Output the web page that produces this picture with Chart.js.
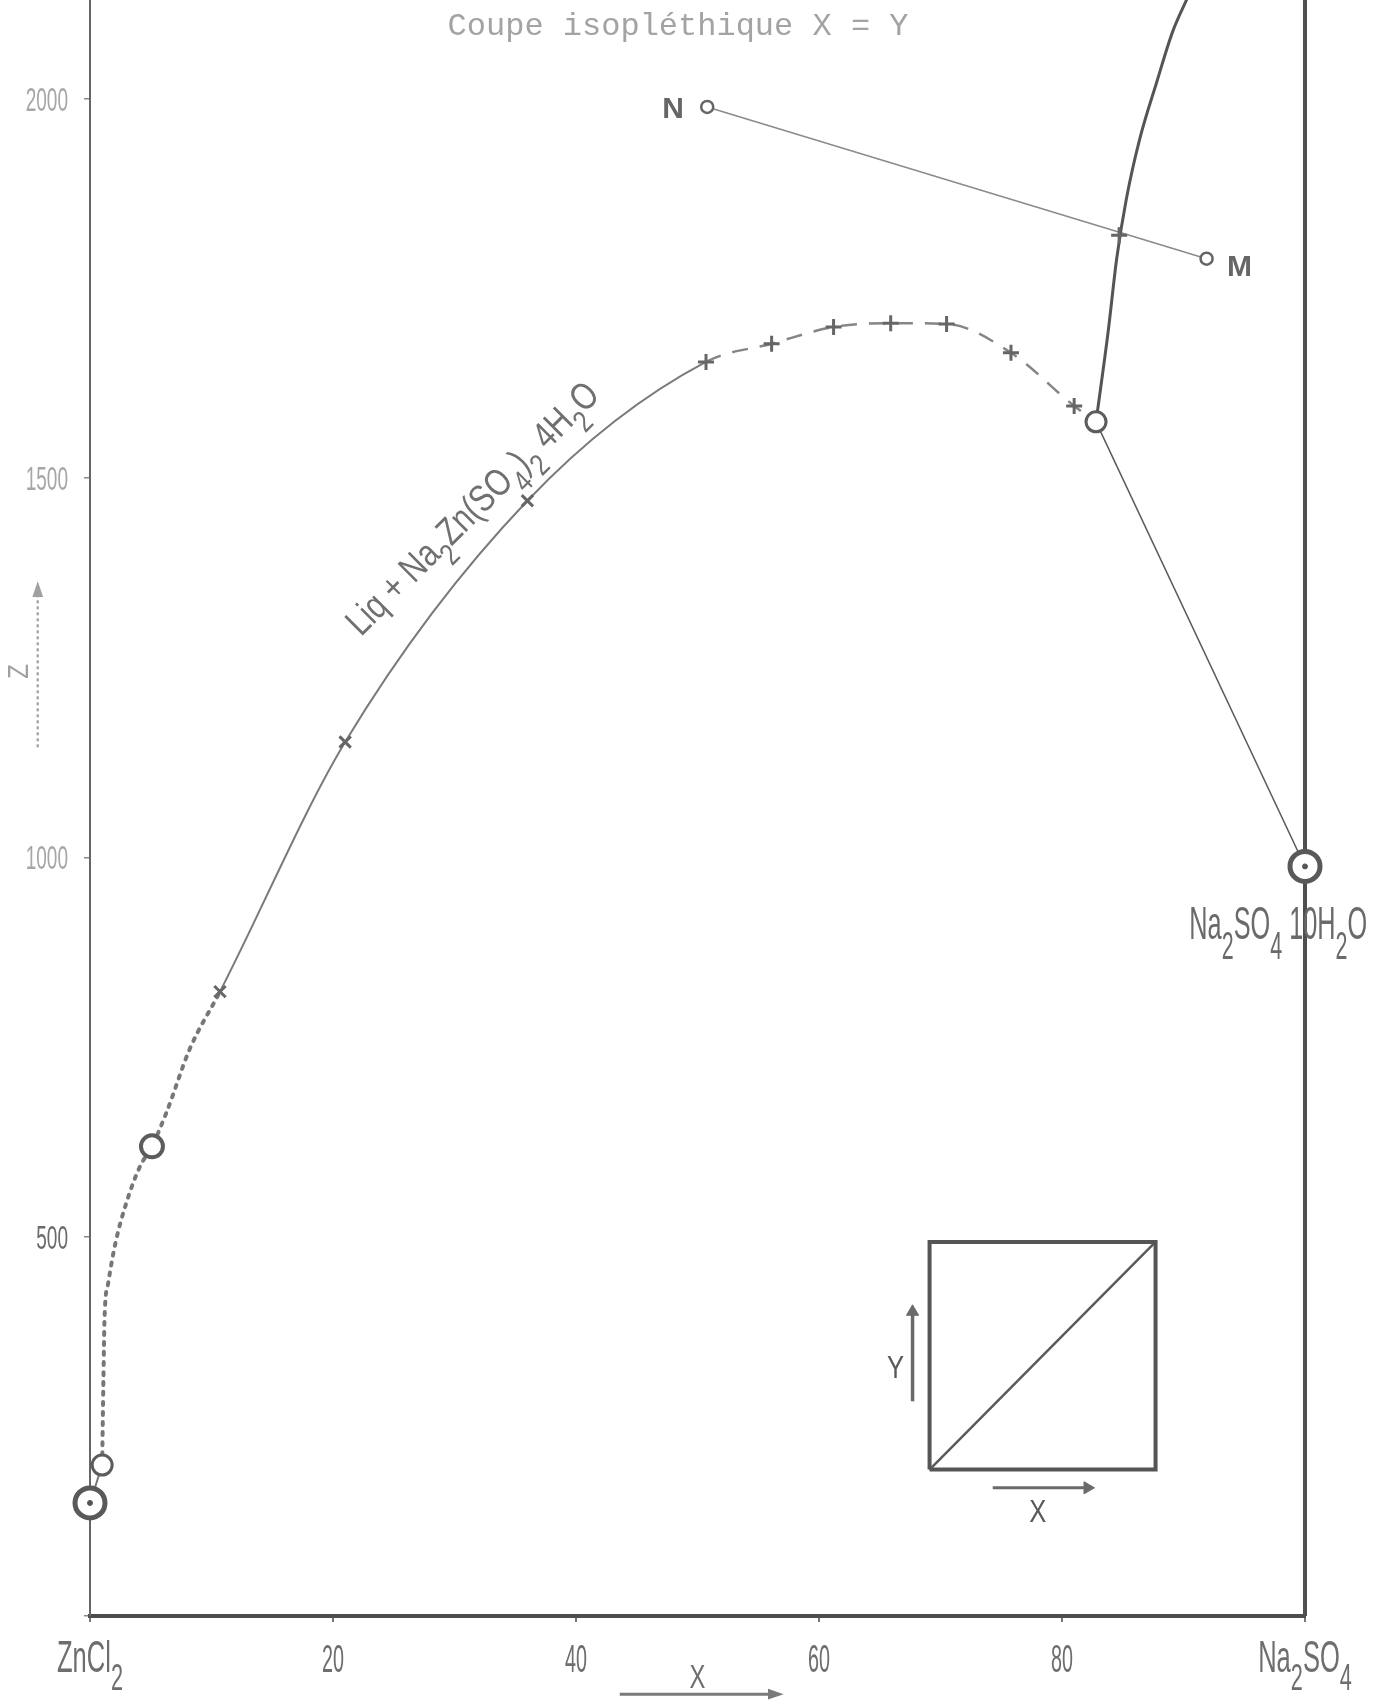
<!DOCTYPE html>
<html>
<head>
<meta charset="utf-8">
<title>Coupe isopléthique X = Y</title>
<script src="https://cdn.jsdelivr.net/npm/chart.js"></script>
<style>
  html, body { margin: 0; padding: 0; background: #fff; }
  canvas { display: block; }
</style>
</head>
<body>
<canvas id="chart" width="1387" height="1700"></canvas>
<script>
// axis ticks
var xTicks = [0, 20, 40, 60, 80, 100];
var xTickLabels = ['ZnCl2', '20', '40', '60', '80', 'Na2SO4'];
var yTicks = [0, 500, 1000, 1500, 2000];
var yTickLabels = ['', '500', '1000', '1500', '2000'];

// liquidus, Na2Zn(SO4)2 4H2O field (X, Z)
var stubX = [0, 1.0];
var stubZ = [149, 199];
var dotX = [1.0, 1.1, 1.2, 1.5, 2.1, 3.0, 4.1, 5.1, 6.3, 8.2];
var dotZ = [199, 307, 394, 439, 492, 545, 592, 619, 664, 747];
var liqX = [10.7, 21.0, 36.0];
var liqZ = [823, 1152, 1470];
var topX = [50.7, 56.1, 61.2, 65.9, 70.5, 75.8, 81.0, 82.8];
var topZ = [1653, 1677, 1699, 1704, 1703, 1665, 1595, 1574];

// other branches
var branchX = [82.8, 83.8, 84.5, 85.3, 86.4, 87.8, 89.1, 90.3];
var branchZ = [1574, 1693, 1789, 1868, 1947, 2022, 2088, 2132];
var tieX = [82.8, 100];
var tieZ = [1574, 988];
var nmX = [50.8, 91.9];
var nmZ = [1989, 1789];

// measured points
var crossX = [10.7, 21.0, 36.0, 50.7, 56.1, 61.2, 65.9, 70.5, 75.8, 81.0, 84.7];
var crossZ = [823, 1152, 1470, 1653, 1677, 1699, 1704, 1703, 1665, 1595, 1820];
var circleX = [1.0, 5.1, 82.8];
var circleZ = [199, 619, 1574];
var pureX = [0, 100];
var pureZ = [149, 988];

// inset square and axis arrows
var insetX = [69.1, 69.1, 87.7, 87.7, 69.1];
var insetZ = [193, 493, 493, 193, 193];
var diagX = [69.1, 87.7];
var diagZ = [193, 493];
var insetYArrowX = [67.7, 67.7];
var insetYArrowZ = [283, 401];
var insetXArrowX = [74.3, 82.1];
var insetXArrowZ = [169, 169];
var zArrowX = [-4.3, -4.3];
var zArrowZ = [1145, 1348];
var xArrowX = [43.6, 56.1];
var xArrowZ = [-103, -103];
var rightX = [100, 100];
var rightZ = [0, 2130];

function pts(xs, zs) {
	return xs.map(function(v, i){ return {x: v, y: zs[i]}; });
}

// digits after a letter or ")" are subscripts
function chemParts(text) {
	var parts = [];
	for (var i = 0; i < text.length; i++) {
		var c = text[i], prev = text[i - 1];
		var isDigit = c >= '0' && c <= '9';
		var last = parts[parts.length - 1];
		var sub = isDigit && i > 0 && (/[A-Za-z)]/.test(prev) || (last && last.sub && /[0-9]/.test(prev)));
		if (last && last.sub === sub) last.t += c;
		else parts.push({t: c, sub: sub});
	}
	return parts;
}

function drawChem(ctx, text, px, py, o) {
	var size = o.size, sx = o.sx || 1, angle = o.angle || 0;
	var weight = o.weight || 'normal';
	var family = o.family || "'Liberation Sans', sans-serif";
	var subScale = o.subScale || 0.85, subDrop = o.subDrop || 0.42;
	var parts = chemParts(text);
	var total = 0;
	parts.forEach(function(p){
		p.size = p.sub ? size * subScale : size;
		ctx.font = weight + ' ' + p.size + 'px ' + family;
		p.w = ctx.measureText(p.t).width;
		total += p.w;
	});
	if (o.fit) sx = o.fit / total;
	ctx.save();
	ctx.translate(px, py);
	ctx.rotate(angle);
	ctx.scale(sx, 1);
	ctx.fillStyle = o.color || '#777';
	ctx.textBaseline = 'alphabetic';
	ctx.textAlign = 'left';
	var cx = o.align === 'center' ? -total / 2 : (o.align === 'right' ? -total : 0);
	parts.forEach(function(p){
		ctx.font = weight + ' ' + p.size + 'px ' + family;
		ctx.fillText(p.t, cx, p.sub ? size * subDrop : 0);
		cx += p.w;
	});
	ctx.restore();
}

function drawHead(ctx, px, py, angle, len, color) {
	ctx.save();
	ctx.translate(px, py);
	ctx.rotate(angle);
	ctx.fillStyle = color;
	ctx.beginPath();
	ctx.moveTo(len, 0);
	ctx.lineTo(-len * 0.3, -len * 0.45);
	ctx.lineTo(-len * 0.3, len * 0.45);
	ctx.closePath();
	ctx.fill();
	ctx.restore();
}

var labelPlugin = {
	id: 'labels',
	afterDraw: function(chart) {
		var ctx = chart.ctx, x = chart.scales.x, y = chart.scales.y;
		var bottom = chart.chartArea.bottom;

		// title
		ctx.save();
		ctx.font = "32px 'Liberation Mono', 'DejaVu Sans Mono', monospace";
		ctx.fillStyle = '#a3a3a3';
		ctx.textAlign = 'center';
		ctx.textBaseline = 'alphabetic';
		ctx.fillText('Coupe isopléthique X = Y', x.getPixelForValue(48.4), y.getPixelForValue(2084));
		ctx.restore();

		// y tick labels
		yTicks.forEach(function(v, i){
			if (!yTickLabels[i]) return;
			drawChem(ctx, yTickLabels[i], 68, y.getPixelForValue(v) + 12,
				{size: 34, sx: 0.56, align: 'right', color: v === 500 ? '#6a6a6a' : '#a6a6a6'});
		});

		// x tick labels
		xTicks.forEach(function(v, i){
			var chem = /[A-Za-z]/.test(xTickLabels[i]);
			drawChem(ctx, xTickLabels[i], x.getPixelForValue(v), bottom + 56,
				{size: chem ? 44 : 38, sx: chem ? 0.58 : 0.52, align: 'center', color: '#6e6e6e'});
		});

		// axis names and their arrows
		drawChem(ctx, 'X', x.getPixelForValue(50.0), bottom + 72, {size: 34, sx: 0.7, align: 'center', color: '#6e6e6e'});
		drawHead(ctx, x.getPixelForValue(xArrowX[1]), y.getPixelForValue(xArrowZ[1]), 0, 12, '#7a7a7a');
		drawChem(ctx, 'Z', x.getPixelForValue(-5.1), y.getPixelForValue(1245),
			{size: 30, sx: 0.8, align: 'center', color: '#a0a0a0', angle: -Math.PI / 2});
		drawHead(ctx, x.getPixelForValue(zArrowX[1]), y.getPixelForValue(zArrowZ[1]), -Math.PI / 2, 12, '#a0a0a0');

		// point names
		drawChem(ctx, 'N', x.getPixelForValue(48.0), y.getPixelForValue(1989) + 11,
			{size: 30, weight: 'bold', align: 'center', color: '#666'});
		drawChem(ctx, 'M', x.getPixelForValue(94.6), y.getPixelForValue(1781) + 11,
			{size: 30, weight: 'bold', align: 'center', color: '#666'});
		drawChem(ctx, 'Na2SO4 10H2O', x.getPixelForValue(97.8), y.getPixelForValue(892),
			{size: 46, sx: 0.55, align: 'center', color: '#6a6a6a'});

		// field label along the curve
		drawChem(ctx, 'Liq + Na2Zn(SO4)2 4H2O', x.getPixelForValue(22.3), y.getPixelForValue(1290),
			{size: 38, fit: 340, angle: -45 * Math.PI / 180, color: '#707070', subScale: 0.8, subDrop: 0.38});

		// inset axis names
		drawChem(ctx, 'X', x.getPixelForValue(78.0), y.getPixelForValue(124), {size: 32, sx: 0.8, align: 'center', color: '#5a5a5a'});
		drawChem(ctx, 'Y', x.getPixelForValue(66.3), y.getPixelForValue(314), {size: 32, sx: 0.8, align: 'center', color: '#5a5a5a'});
	}
};

function lineSet(data, color, width, extra) {
	var ds = {
		data: data,
		showLine: true,
		borderColor: color,
		borderWidth: width,
		pointRadius: 0,
		tension: 0,
		fill: false,
		order: 2
	};
	for (var k in extra) ds[k] = extra[k];
	return ds;
}

function arrowSet(data, color, width, rot) {
	return lineSet(data, color, width, {
		pointRadius: [0, 7],
		pointStyle: 'triangle',
		pointRotation: [0, rot],
		pointBackgroundColor: color,
		pointBorderColor: color,
		pointBorderWidth: 1
	});
}

var crossStyles = crossX.map(function(v){ return v < 40 ? 'crossRot' : 'cross'; });

// one continuous liquidus, dotted / solid / dashed by part
var curveX = dotX.concat(liqX, topX);
var curveZ = dotZ.concat(liqZ, topZ);
function partOf(xv) {
	if (xv < liqX[0]) return 0;
	if (xv < topX[0]) return 1;
	return 2;
}

var datasets = [
	// markers on top
	{data: pts(pureX, pureZ), showLine: false, pointStyle: 'circle', pointRadius: 2.5,
		pointBackgroundColor: '#555', pointBorderColor: '#555', pointBorderWidth: 1, order: 0, clip: false},
	{data: pts(pureX, pureZ), showLine: false, pointStyle: 'circle', pointRadius: 15,
		pointBackgroundColor: '#fff', pointBorderColor: '#595959', pointBorderWidth: 5, order: 1, clip: false},
	{data: pts(circleX, circleZ), showLine: false, pointStyle: 'circle', pointRadius: [10, 11, 10],
		pointBackgroundColor: '#fff', pointBorderColor: '#5c5c5c', pointBorderWidth: [3, 4, 3], order: 1},
	{data: pts(nmX, nmZ), showLine: false, pointStyle: 'circle', pointRadius: 6,
		pointBackgroundColor: '#fff', pointBorderColor: '#666', pointBorderWidth: 2.5, order: 1},
	{data: pts(crossX, crossZ), showLine: false, pointStyle: crossStyles, pointRadius: 8,
		pointBorderColor: '#666', pointBorderWidth: 3, order: 1},

	// curves
	lineSet(pts(stubX, stubZ), '#777', 2),
	lineSet(pts(curveX, curveZ), '#7a7a7a', 2, {
		cubicInterpolationMode: 'monotone',
		segment: {
			borderDash: function(c){ var p = partOf(c.p0.parsed.x); return p === 0 ? [3, 7] : (p === 2 ? [16, 12] : []); },
			borderWidth: function(c){ var p = partOf(c.p0.parsed.x); return p === 0 ? 4 : (p === 2 ? 2.5 : 2); },
			borderCapStyle: function(c){ return partOf(c.p0.parsed.x) === 0 ? 'round' : 'butt'; },
			borderColor: function(c){ var p = partOf(c.p0.parsed.x); return p === 0 ? '#777' : (p === 2 ? '#858585' : '#7a7a7a'); }
		}
	}),
	lineSet(pts(branchX, branchZ), '#555', 3, {cubicInterpolationMode: 'monotone'}),
	lineSet(pts(tieX, tieZ), '#5a5a5a', 1.5),
	lineSet(pts(nmX, nmZ), '#8a8a8a', 1.5),
	lineSet(pts(rightX, rightZ), '#4f4f4f', 4, {clip: false}),

	// inset
	lineSet(pts(insetX, insetZ), '#555', 4),
	lineSet(pts(diagX, diagZ), '#5a5a5a', 2.5),
	arrowSet(pts(insetYArrowX, insetYArrowZ), '#6a6a6a', 3.5, 0),
	arrowSet(pts(insetXArrowX, insetXArrowZ), '#6a6a6a', 3, 90),

	// axis arrows (heads drawn by the label plugin)
	lineSet(pts(zArrowX, zArrowZ), '#a8a8a8', 2.5, {clip: false, borderDash: [3, 3]}),
	lineSet(pts(xArrowX, xArrowZ), '#7a7a7a', 3, {clip: false})
];

var ctx = document.getElementById('chart');

var chart = new Chart(ctx, {
	type: 'scatter',
	data: { datasets: datasets },
	options: {
		responsive: false,
		animation: false,
		devicePixelRatio: 1,
		layout: { autoPadding: false, padding: { left: 0, right: 82, top: 0, bottom: 0 } },
		plugins: {
			legend: { display: false },
			tooltip: { enabled: false }
		},
		scales: {
			x: {
				type: 'linear',
				min: 0,
				max: 100,
				afterBuildTicks: function(scale){ scale.ticks = xTicks.map(function(v){ return {value: v}; }); },
				afterFit: function(scale){ scale.height = 84; },
				ticks: { display: false },
				grid: { drawOnChartArea: false, drawTicks: true, tickLength: 6, color: '#777', lineWidth: 2 },
				border: { display: true, color: '#4d4d4d', width: 4 }
			},
			y: {
				type: 'linear',
				min: 0,
				max: 2130,
				afterBuildTicks: function(scale){ scale.ticks = yTicks.map(function(v){ return {value: v}; }); },
				afterFit: function(scale){ scale.width = 90; },
				ticks: { display: false },
				grid: { drawOnChartArea: false, drawTicks: true, tickLength: 6, color: '#888', lineWidth: 1.5 },
				border: { display: true, color: '#666', width: 2 }
			}
		}
	},
	plugins: [labelPlugin]
});
</script>
</body>
</html>
